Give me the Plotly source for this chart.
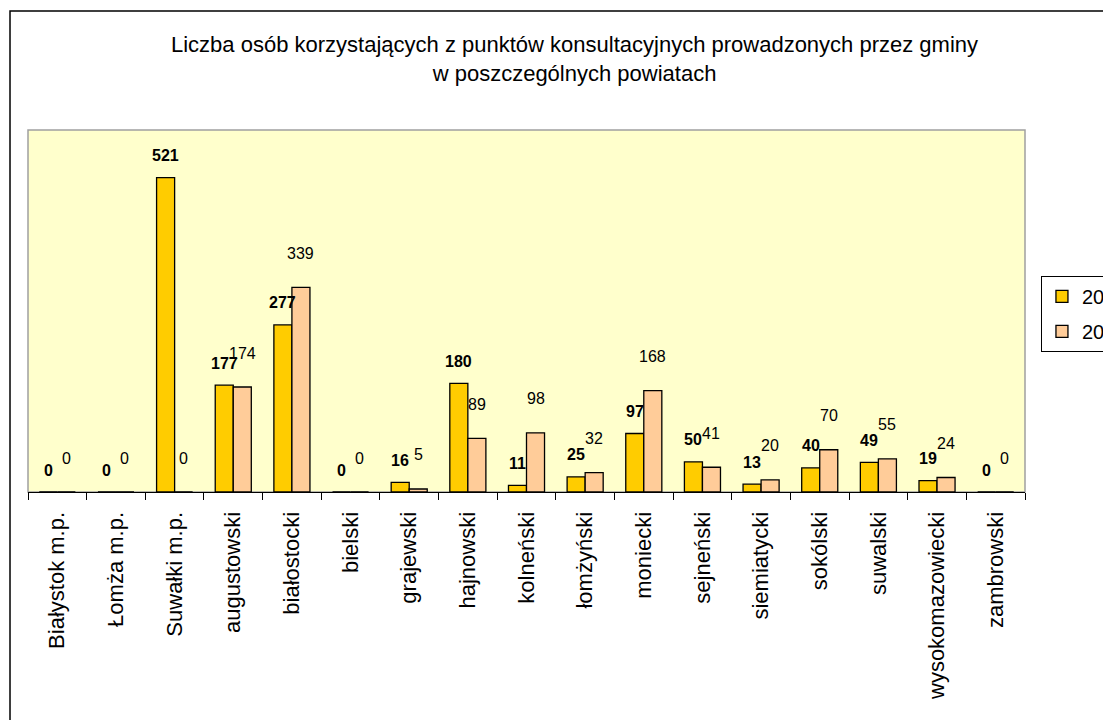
import plotly.graph_objects as go

powiaty = ["Białystok m.p.", "Łomża m.p.", "Suwałki m.p.", "augustowski", "białostocki",
           "bielski", "grajewski", "hajnowski", "kolneński", "łomżyński", "moniecki",
           "sejneński", "siemiatycki", "sokólski", "suwalski", "wysokomazowiecki", "zambrowski"]
v2008 = [0, 0, 521, 177, 277, 0, 16, 180, 11, 25, 97, 50, 13, 40, 49, 19, 0]
v2009 = [0, 0, 0, 174, 339, 0, 5, 89, 98, 32, 168, 41, 20, 70, 55, 24, 0]

FONT = "Liberation Sans, Arial, sans-serif"

fig = go.Figure()
fig.add_trace(go.Bar(x=powiaty, y=v2008, name="2008", legendgroup="a",
                     marker=dict(color="#FFCC00", line=dict(color="black", width=1.3))))
fig.add_trace(go.Bar(x=powiaty, y=v2009, name="2009", legendgroup="b",
                     marker=dict(color="#FFCC99", line=dict(color="black", width=1.3))))

# etykiety danych (2008 pogrubione, 2009 zwykłe)
ann = []
for p, a, b in zip(powiaty, v2008, v2009):
    ann.append(dict(x=p, y=a, text="<b>%d</b>" % a, showarrow=False, xshift=-9, yshift=22,
                    yanchor="middle", font=dict(size=16, color="black")))
    ann.append(dict(x=p, y=b, text="%d" % b, showarrow=False, xshift=9, yshift=34,
                    yanchor="middle", font=dict(size=16, color="black")))

ann.append(dict(xref="paper", yref="paper", x=0.5486, y=1.275, yanchor="top",
                text="Liczba osób korzystających z punktów konsultacyjnych prowadzonych przez gminy"
                     "<br>w poszczególnych powiatach",
                showarrow=False, font=dict(size=22, color="black")))

fig.update_layout(
    width=1111, height=720,
    margin=dict(l=20, r=94, t=122, b=236, autoexpand=False),
    paper_bgcolor="white", plot_bgcolor="#FFFFCC",
    font=dict(family=FONT, color="black"),
    barmode="group", bargap=0.385, bargroupgap=0,
    showlegend=True,
    legend=dict(x=1.016, y=0.597, xanchor="left", yanchor="top",
                bordercolor="black", borderwidth=1, bgcolor="white",
                font=dict(size=20), tracegroupgap=6),
    annotations=ann,
    shapes=[
        dict(type="rect", xref="paper", yref="paper", x0=0, x1=1, y0=0, y1=1,
             line=dict(color="#A0A0A0", width=1.5), layer="below"),
        dict(type="rect", xref="paper", yref="paper", x0=-0.01805, x1=2, y0=-2, y1=1.3287,
             line=dict(color="black", width=1.5)),
    ],
)
fig.update_xaxes(tickangle=-90, ticks="outside", tickson="boundaries", ticklen=7,
                 tickcolor="black", showline=True, linecolor="black", linewidth=1.3,
                 tickfont=dict(size=22), ticklabelstandoff=10, showgrid=False)
fig.update_yaxes(visible=False, range=[0, 600])

fig.write_html("out.html")
